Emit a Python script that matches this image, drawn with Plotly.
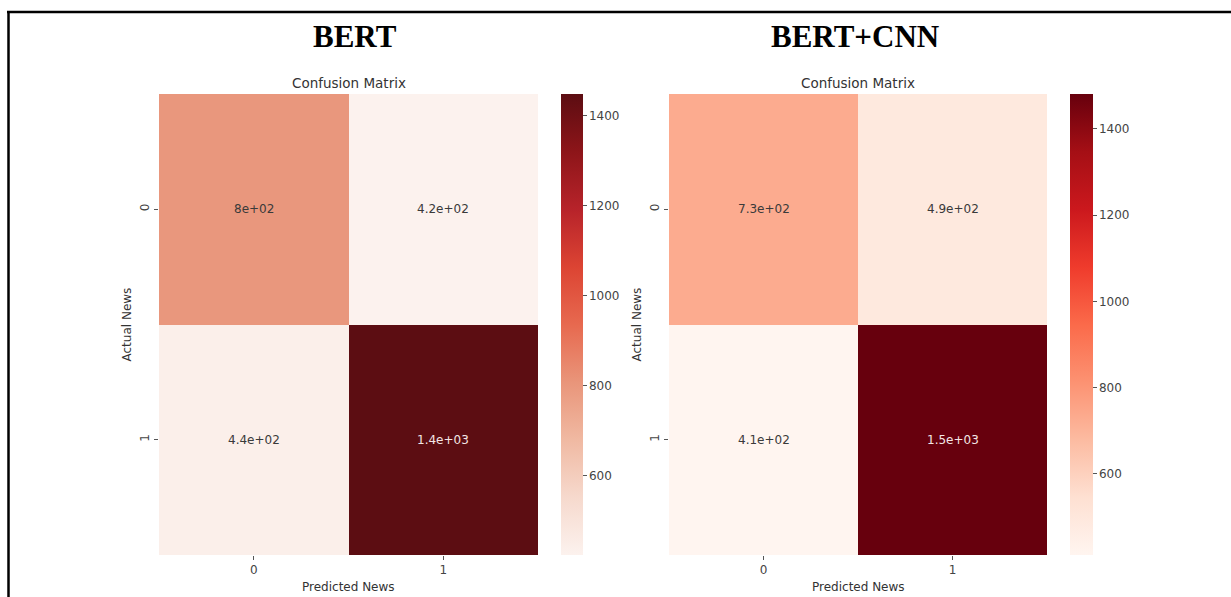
import plotly.graph_objects as go

# ---- data ----
classes = ["0", "1"]
bert_cm = [[800, 424], [440, 1448]]
bertcnn_cm = [[730, 490], [412, 1481]]
panel_titles = ["BERT", "BERT+CNN"]
cbar_ticks = [600, 800, 1000, 1200, 1400]

W, H = 1231, 597
def px(x):
    return x / W
def py(y):
    return 1 - y / H

reds_muted = [
    [0.0, "#fcf2ee"], [0.125, "#f6d9cd"], [0.25, "#f0b9a2"], [0.375, "#e9957a"],
    [0.5, "#e7694f"], [0.625, "#dc4433"], [0.75, "#b7232a"], [0.875, "#8d1519"],
    [1.0, "#5c0d12"],
]
reds = [
    [0.0, "#fff5f0"], [0.125, "#fee0d2"], [0.25, "#fcbba1"], [0.375, "#fc9272"],
    [0.5, "#fb6a4a"], [0.625, "#ef3b2c"], [0.75, "#cb181d"], [0.875, "#a50f15"],
    [1.0, "#67000d"],
]

FONT = "DejaVu Sans"
TXT = "#3a3a3a"

fig = go.Figure()

panels = [
    dict(cm=bert_cm, cs=reds_muted, xd=(159, 538), cbx=561, cbt=22, xa="x", ya="y",
         title=panel_titles[0], tx=355),
    dict(cm=bertcnn_cm, cs=reds, xd=(669, 1047), cbx=1070, cbt=23, xa="x2", ya="y2",
         title=panel_titles[1], tx=855),
]

annotations = []
for i, p in enumerate(panels):
    cm = p["cm"]
    flat = [v for row in cm for v in row]
    zmin, zmax = min(flat), max(flat)
    fig.add_trace(go.Heatmap(
        z=cm, x=classes, y=classes, xaxis=p["xa"], yaxis=p["ya"],
        colorscale=p["cs"], zmin=zmin, zmax=zmax, hoverinfo="skip",
        colorbar=dict(
            x=px(p["cbx"]), xanchor="left", xpad=0, ypad=0,
            y=py(94), yanchor="top", len=461 / H, lenmode="fraction",
            thickness=p["cbt"], thicknessmode="pixels", outlinewidth=0,
            tickvals=cbar_ticks, ticks="outside", ticklen=4, tickwidth=1,
            tickcolor="#555555",
            tickfont=dict(family=FONT, size=12, color="#444444"),
        ),
    ))
    # cell annotations
    for r, row in enumerate(cm):
        for c, v in enumerate(row):
            frac = (v - zmin) / (zmax - zmin)
            annotations.append(dict(
                x=classes[c], y=classes[r], xref=p["xa"], yref=p["ya"],
                text=format(v, ".2g"), showarrow=False,
                font=dict(family=FONT, size=12, color="#f3e6e6" if frac > 0.6 else TXT),
            ))
    cx = (p["xd"][0] + p["xd"][1]) / 2
    # subplot title
    annotations.append(dict(x=px(cx), y=py(83), xref="paper", yref="paper",
                            text="Confusion Matrix", showarrow=False,
                            xanchor="center", yanchor="middle",
                            font=dict(family=FONT, size=13.5, color="#333333")))
    # axis titles
    annotations.append(dict(x=px(cx), y=py(587), xref="paper", yref="paper",
                            text="Predicted News", showarrow=False,
                            xanchor="center", yanchor="middle",
                            font=dict(family=FONT, size=12, color="#333333")))
    annotations.append(dict(x=px(p["xd"][0] - 33), y=py(324.5), xref="paper", yref="paper",
                            text="Actual News", showarrow=False, textangle=-90,
                            xanchor="center", yanchor="middle",
                            font=dict(family=FONT, size=12, color="#333333")))
    # big panel title
    annotations.append(dict(x=px(p["tx"]), y=py(37), xref="paper", yref="paper",
                            text="<b>" + p["title"] + "</b>", showarrow=False,
                            xanchor="center", yanchor="middle",
                            font=dict(family="Liberation Serif", size=31, color="#000000")))

axis_common = dict(type="category", showgrid=False, zeroline=False, showline=False,
                   ticks="outside", ticklen=4, tickwidth=1, tickcolor="#555555",
                   tickfont=dict(family=FONT, size=12, color="#444444"))

fig.update_layout(
    width=W, height=H, margin=dict(l=0, r=0, t=0, b=0),
    paper_bgcolor="white", plot_bgcolor="white",
    showlegend=False,
    xaxis=dict(domain=[px(159), px(538)], anchor="y", **axis_common),
    yaxis=dict(domain=[py(555), py(94)], anchor="x", autorange="reversed",
               tickangle=-90, **axis_common),
    xaxis2=dict(domain=[px(669), px(1047)], anchor="y2", **axis_common),
    yaxis2=dict(domain=[py(555), py(94)], anchor="x2", autorange="reversed",
                tickangle=-90, **axis_common),
    annotations=annotations,
    shapes=[
        dict(type="line", xref="paper", yref="paper", x0=px(7), x1=1, y0=py(12), y1=py(12),
             line=dict(color="black", width=2.5)),
        dict(type="line", xref="paper", yref="paper", x0=px(8.5), x1=px(8.5), y0=py(12), y1=0,
             line=dict(color="black", width=2.5)),
    ],
)

fig.write_html("out.html", config={"displayModeBar": False},
               post_script="document.body.style.margin='0';document.body.style.overflow='hidden';")
